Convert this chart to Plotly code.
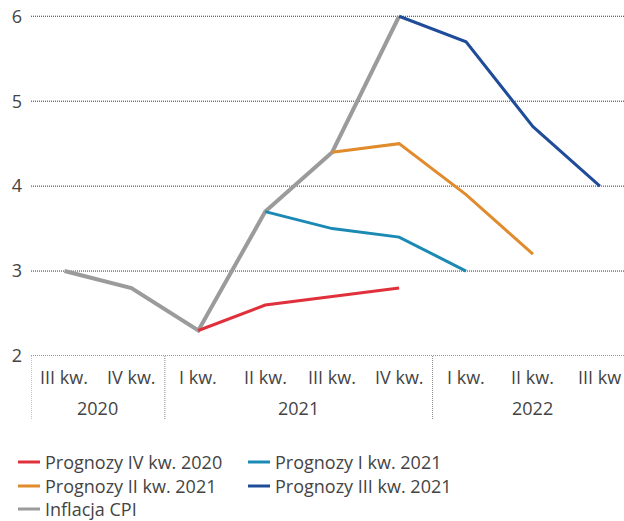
import plotly.graph_objects as go

quarters = ["III kw.", "IV kw.", "I kw.", "II kw.", "III kw.", "IV kw.", "I kw.", "II kw.", "III kw"]
years = ["2020", "2021", "2022"]
year_centers = [0.5, 3.5, 7]
year_breaks = [-0.5, 1.5, 5.5]

cpi = [3.0, 2.8, 2.3, 3.7, 4.4, 6.0, None, None, None]
prog_iv_2020 = [None, None, 2.3, 2.6, 2.7, 2.8, None, None, None]
prog_i_2021 = [None, None, None, 3.7, 3.5, 3.4, 3.0, None, None]
prog_ii_2021 = [None, None, None, None, 4.4, 4.5, 3.9, 3.2, None]
prog_iii_2021 = [None, None, None, None, None, 6.0, 5.7, 4.7, 4.0]

series = [
    ("Inflacja CPI", cpi, "#9b9b9b", 4),
    ("Prognozy IV kw. 2020", prog_iv_2020, "#e0303c", 3),
    ("Prognozy I kw. 2021", prog_i_2021, "#1a8ab4", 3),
    ("Prognozy II kw. 2021", prog_ii_2021, "#e08b2c", 3),
    ("Prognozy III kw. 2021", prog_iii_2021, "#1f4c9a", 3),
]
legend_order = [1, 2, 3, 4, 0]

FONT = "Open Sans"
TXT = "#444444"
FS = 18

x = list(range(len(quarters)))
fig = go.Figure()
for name, vals, col, w in series:
    fig.add_trace(go.Scatter(x=x, y=vals, mode="lines", name=name,
                             line=dict(color=col, width=w), showlegend=False,
                             connectgaps=False))

shapes = []
# horizontal dotted gridlines
for v in [2, 3, 4, 5, 6]:
    shapes.append(dict(type="line", xref="paper", yref="y", x0=0, x1=1, y0=v, y1=v,
                       line=dict(color="#333333", width=1, dash="1px,1px"), layer="below"))
# year separators below the axis
for b in year_breaks:
    shapes.append(dict(type="line", xref="x", yref="paper", x0=b, x1=b, y0=0, y1=-0.186,
                       line=dict(color="#888888", width=1, dash="1px,1px")))

annotations = []
for i, q in enumerate(quarters):
    annotations.append(dict(x=i, y=-0.06, xref="x", yref="paper", text=q, showarrow=False,
                            font=dict(family=FONT, size=FS, color=TXT), yanchor="middle"))
for c, yr in zip(year_centers, years):
    annotations.append(dict(x=c, y=-0.15, xref="x", yref="paper", text=yr, showarrow=False,
                            font=dict(family=FONT, size=FS, color=TXT), yanchor="middle"))

# legend drawn by hand: two columns, row-wise
leg_pos = [(18, 462), (248, 462), (18, 486), (248, 486), (18, 509)]
W, H = 624, 521
L, R, T, B = 31, 0, 12, 165
pw, ph = W - L - R, H - T - B
for (px, py), idx in zip(leg_pos, legend_order):
    name, _, col, _ = series[idx]
    x0 = (px - L) / pw
    x1 = (px + 22 - L) / pw
    yy = (H - B - py) / ph
    shapes.append(dict(type="line", xref="paper", yref="paper", x0=x0, x1=x1, y0=yy, y1=yy,
                       line=dict(color=col, width=3)))
    annotations.append(dict(x=(px + 25 - L) / pw, y=yy, xref="paper", yref="paper", text=name,
                            showarrow=False, xanchor="left", yanchor="middle",
                            font=dict(family=FONT, size=FS, color=TXT)))

fig.update_layout(
    width=W, height=H,
    margin=dict(l=L, r=R, t=T, b=B),
    plot_bgcolor="white", paper_bgcolor="white",
    xaxis=dict(range=[-0.5, 8.36], showticklabels=False, showgrid=False, zeroline=False,
               showline=False, ticks=""),
    yaxis=dict(range=[2, 6.05], tickvals=[2, 3, 4, 5, 6], showgrid=False, zeroline=False,
               showline=False, ticks="", ticklabelstandoff=8,
               tickfont=dict(family=FONT, size=FS, color=TXT)),
    shapes=shapes, annotations=annotations,
)

fig.write_html("out.html")
